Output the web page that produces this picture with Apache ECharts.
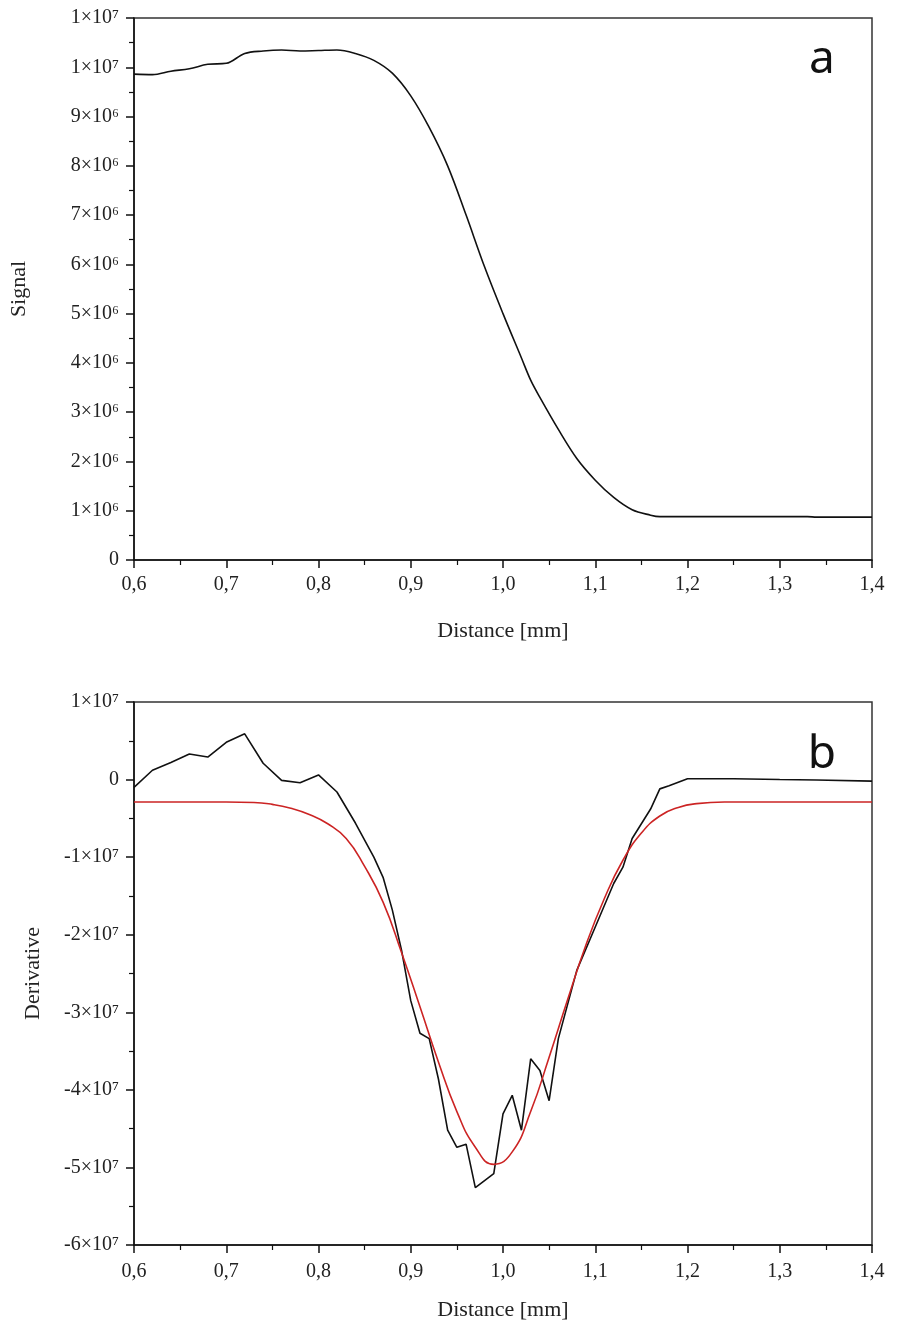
<!DOCTYPE html>
<html>
<head>
<meta charset="utf-8">
<script src="https://cdn.jsdelivr.net/npm/echarts@6/dist/echarts.min.js"></script>
<style>
  html, body { margin: 0; padding: 0; background: #fff; }
  #chart { width: 900px; height: 1338px; }
</style>
</head>
<body>
<div id="chart"></div>
<script>
// ---- Data ----
const xTickLabels = ['0,6', '0,7', '0,8', '0,9', '1,0', '1,1', '1,2', '1,3', '1,4'];
const signalTickLabels = ['0', '1×10⁶', '2×10⁶', '3×10⁶', '4×10⁶', '5×10⁶', '6×10⁶', '7×10⁶', '8×10⁶', '9×10⁶', '1×10⁷', '1×10⁷'];
const derivTickLabels = ['-6×10⁷', '-5×10⁷', '-4×10⁷', '-3×10⁷', '-2×10⁷', '-1×10⁷', '0', '1×10⁷'];

const signalX = [0.60, 0.62, 0.64, 0.66, 0.68, 0.70, 0.72, 0.74, 0.76, 0.78, 0.80, 0.82, 0.84, 0.86, 0.88, 0.90, 0.92, 0.94, 0.96, 0.98, 1.00, 1.02, 1.03, 1.04, 1.06, 1.08, 1.10, 1.12, 1.14, 1.16, 1.17, 1.20, 1.25, 1.30, 1.33, 1.34, 1.40];
const signalY = [9.86e6, 9.85e6, 9.92e6, 9.97e6, 10.06e6, 10.08e6, 10.28e6, 10.33e6, 10.35e6, 10.33e6, 10.34e6, 10.35e6, 10.28e6, 10.14e6, 9.88e6, 9.42e6, 8.78e6, 8.0e6, 7.0e6, 5.95e6, 5.0e6, 4.1e6, 3.65e6, 3.3e6, 2.65e6, 2.06e6, 1.62e6, 1.27e6, 1.02e6, 0.91e6, 0.88e6, 0.88e6, 0.88e6, 0.88e6, 0.88e6, 0.87e6, 0.87e6];

const derivX = [0.60, 0.62, 0.64, 0.66, 0.68, 0.70, 0.72, 0.74, 0.76, 0.78, 0.80, 0.82, 0.84, 0.86, 0.87, 0.88, 0.89, 0.90, 0.91, 0.92, 0.93, 0.94, 0.95, 0.96, 0.97, 0.99, 1.00, 1.01, 1.02, 1.03, 1.04, 1.05, 1.06, 1.08, 1.10, 1.12, 1.13, 1.14, 1.16, 1.17, 1.18, 1.20, 1.25, 1.30, 1.34, 1.40];
const derivY = [-1.0e6, 1.2e6, 2.2e6, 3.3e6, 2.9e6, 4.8e6, 5.9e6, 2.1e6, -0.1e6, -0.4e6, 0.6e6, -1.6e6, -5.6e6, -10.0e6, -12.6e6, -16.8e6, -22.0e6, -28.5e6, -32.7e6, -33.4e6, -38.6e6, -45.2e6, -47.4e6, -47.0e6, -52.6e6, -50.8e6, -43.1e6, -40.7e6, -45.2e6, -36.0e6, -37.5e6, -41.4e6, -33.4e6, -24.6e6, -19.0e6, -13.4e6, -11.3e6, -7.6e6, -3.8e6, -1.2e6, -0.8e6, 0.1e6, 0.1e6, 0.0, -0.05e6, -0.2e6];

const fitX = [0.60, 0.70, 0.73, 0.75, 0.77, 0.79, 0.81, 0.83, 0.85, 0.87, 0.89, 0.91, 0.93, 0.95, 0.97, 0.99, 1.01, 1.03, 1.05, 1.07, 1.09, 1.11, 1.13, 1.15, 1.17, 1.19, 1.21, 1.24, 1.40];
const fitY = [-2.9e6, -2.9e6, -2.95e6, -3.2e6, -3.7e6, -4.5e6, -5.7e6, -7.6e6, -11.2e6, -15.8e6, -22.3e6, -29.3e6, -36.4e6, -42.8e6, -47.4e6, -49.6e6, -48.0e6, -42.8e6, -35.8e6, -28.4e6, -21.3e6, -15.3e6, -10.4e6, -6.9e6, -4.7e6, -3.6e6, -3.1e6, -2.9e6, -2.9e6];

const zip = (xs, ys) => xs.map((x, i) => [x, ys[i]]);

// ---- Styling ----
const serif = 'Liberation Serif';
const axisColor = '#111';
const tickFont = { fontFamily: serif, fontSize: 20, color: '#222' };
const nameFont = { fontFamily: serif, fontSize: 22, color: '#222' };

function xAxisCfg(gridIndex, labelMargin, nameGap) {
  return {
    type: 'value', gridIndex: gridIndex, min: 0.6, max: 1.4, interval: 0.1,
    name: 'Distance [mm]', nameLocation: 'middle', nameGap: nameGap, nameTextStyle: nameFont,
    axisLine: { show: true, onZero: false, lineStyle: { color: axisColor, width: 1.5 } },
    axisTick: { show: true, length: 8, lineStyle: { color: axisColor, width: 1.5 } },
    minorTick: { show: true, splitNumber: 2, length: 5, lineStyle: { color: axisColor, width: 1.2 } },
    splitLine: { show: false },
    axisLabel: Object.assign({ margin: labelMargin, formatter: v => xTickLabels[Math.round((v - 0.6) / 0.1)] }, tickFont)
  };
}

function yAxisCfg(gridIndex, min, max, interval, labels, name, nameGap) {
  return {
    type: 'value', gridIndex: gridIndex, min: min, max: max, interval: interval,
    name: name, nameLocation: 'middle', nameGap: nameGap, nameTextStyle: nameFont,
    axisLine: { show: true, onZero: false, lineStyle: { color: axisColor, width: 1.5 } },
    axisTick: { show: true, length: 8, lineStyle: { color: axisColor, width: 1.5 } },
    minorTick: { show: true, splitNumber: 2, length: 5, lineStyle: { color: axisColor, width: 1.2 } },
    splitLine: { show: false },
    axisLabel: Object.assign({ margin: 15, formatter: v => labels[Math.round((v - min) / interval)] }, tickFont)
  };
}

const chart = echarts.init(document.getElementById('chart'), null, { renderer: 'canvas' });
chart.setOption({
  backgroundColor: '#fff',
  animation: false,
  grid: [
    { left: 134, right: 28, top: 18, height: 542, show: true, borderColor: '#333', borderWidth: 1.5, backgroundColor: 'transparent' },
    { left: 134, right: 28, top: 702, height: 543, show: true, borderColor: '#333', borderWidth: 1.5, backgroundColor: 'transparent' }
  ],
  xAxis: [xAxisCfg(0, 15, 60), xAxisCfg(1, 17, 54)],
  yAxis: [
    yAxisCfg(0, 0, 1.1e7, 1e6, signalTickLabels, 'Signal', 104),
    yAxisCfg(1, -6e7, 1e7, 1e7, derivTickLabels, 'Derivative', 90)
  ],
  series: [
    {
      name: 'Signal', type: 'line', xAxisIndex: 0, yAxisIndex: 0,
      data: zip(signalX, signalY), smooth: 0.35, showSymbol: false,
      lineStyle: { color: '#111', width: 1.6 }
    },
    {
      name: 'Derivative', type: 'line', xAxisIndex: 1, yAxisIndex: 1,
      data: zip(derivX, derivY), smooth: false, showSymbol: false,
      lineStyle: { color: '#111', width: 1.6 }
    },
    {
      name: 'Gauss fit', type: 'line', xAxisIndex: 1, yAxisIndex: 1,
      data: zip(fitX, fitY), smooth: 0.5, showSymbol: false,
      lineStyle: { color: '#cc2424', width: 1.6 }
    }
  ],
  graphic: [
    { type: 'text', x: 822, y: 60, style: { text: 'a', fontFamily: 'Noto Sans', fontSize: 46, fill: '#111', textAlign: 'center', textVerticalAlign: 'middle' } },
    { type: 'text', x: 822, y: 755, style: { text: 'b', fontFamily: 'Noto Sans', fontSize: 46, fill: '#111', textAlign: 'center', textVerticalAlign: 'middle' } }
  ]
});
</script>
</body>
</html>
